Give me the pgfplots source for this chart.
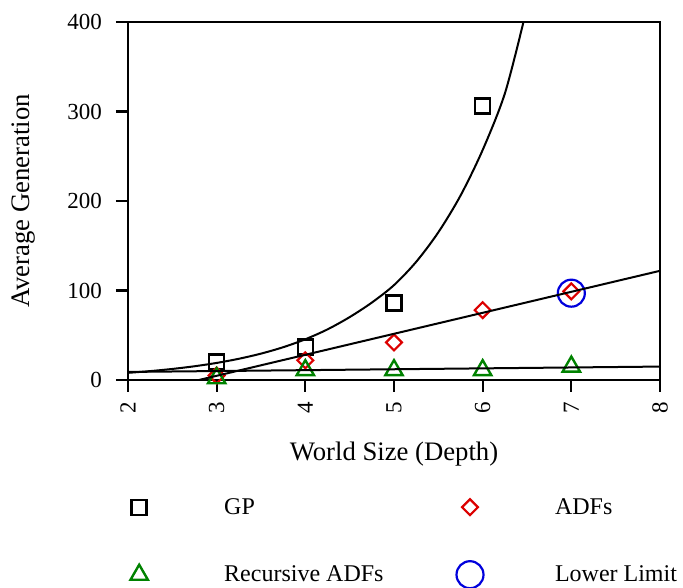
\documentclass[border=0pt]{standalone}
\usepackage{fontspec}
\setmainfont{Liberation Serif}
\usepackage{pgfplots}
\pgfplotsset{compat=1.18}
\definecolor{mred}{RGB}{220,0,0}
\definecolor{mgreen}{RGB}{0,130,0}
\definecolor{mblue}{RGB}{0,0,220}
\begin{document}
\begin{tikzpicture}
\path[use as bounding box] (-128pt,-208pt) rectangle (555pt,380pt);
\begin{axis}[
  at={(0pt,0pt)}, anchor=south west,
  scale only axis, width=532pt, height=358pt,
  xmin=2, xmax=8, ymin=0, ymax=400,
  xtick={2,3,4,5,6,7,8}, ytick={0,100,200,300,400},
  xtick pos=bottom, ytick pos=left,
  tick align=outside, major tick length=12pt,
  tick style={line width=2.2pt, black},
  axis line style={line width=2.6pt},
  /pgf/number format/assume math mode=true,
  xticklabel style={rotate=90, anchor=east, font=\fontsize{23}{23}\selectfont, inner sep=10pt},
  yticklabel style={font=\fontsize{23}{23}\selectfont, inner sep=14pt},
  xlabel={World Size (Depth)}, ylabel={Average Generation},
  label style={font=\fontsize{26.7}{28}\selectfont},
  xlabel style={at={(rel axis cs:0.5,0)}, anchor=center, yshift=-74pt},
  ylabel style={at={(rel axis cs:0,0.5)}, anchor=center, yshift=104pt},
  clip mode=individual,
  legend columns=2,
  legend cell align=left,
  legend style={draw=none, fill=none, at={(0,0)}, anchor=north west, xshift=-4pt, yshift=-113pt,
    font=\fontsize{24}{26}\selectfont, row sep=42pt,
    /tikz/every even column/.append style={column sep=71pt}},
  legend image code/.code={\path[draw=none,fill=none] (-12pt,-12pt) rectangle (83pt,12pt); \draw[#1, mark repeat=1] plot coordinates {(0pt,0pt)};},
]
\addplot[only marks, mark=square, mark size=7.5pt, line width=2.4pt, black] coordinates {
(3,20) (4,37) (5,86) (6,306)};
\addlegendentry{GP}
\addplot[only marks, mark=square, mark options={rotate=45}, mark size=5.6pt, line width=2.2pt, mred] coordinates {
(3,5) (4,22) (5,42) (6,78) (7,99)};
\addlegendentry{ADFs}
\addplot[only marks, mark=triangle, mark size=10pt, line width=2.4pt, mgreen] coordinates {
(3,2) (4,11) (5,11) (6,11) (7,15)};
\addlegendentry{Recursive ADFs}
\addplot[only marks, mark=o, mark size=13.5pt, line width=2.2pt, mblue] coordinates {
(7,97)};
\addlegendentry{Lower Limit}
\addplot[black, line width=2pt, smooth, forget plot] coordinates {
(2,8) (2.25,9.94) (2.5,12.35) (2.75,15.35) (3,19.08) (3.25,23.71) (3.5,29.47) (3.75,36.62)
(4,45.51) (4.25,56.55) (4.5,70.28) (4.75,86.5) (5,106) (5.25,132) (5.5,165)
(5.75,206) (6,257) (6.25,320) (6.46,400)};
\addplot[black, line width=2pt, forget plot] coordinates {(2.8,0) (8,122)};
\addplot[black, line width=2pt, forget plot] coordinates {(2,9) (8,15)};
\end{axis}
\end{tikzpicture}
\end{document}
